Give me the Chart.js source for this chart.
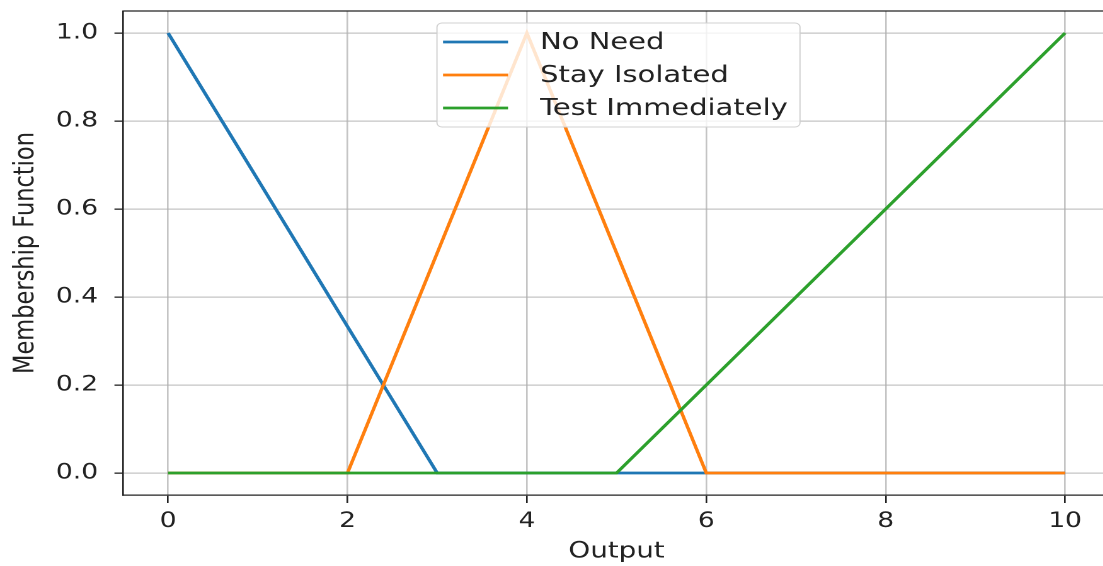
<!DOCTYPE html>
<html>
<head>
<meta charset="utf-8">
<script src="https://cdn.jsdelivr.net/npm/chart.js@4"></script>
<style>
  html, body { margin: 0; padding: 0; overflow: hidden; background: #fff; }
  #wrap { width: 890px; height: 566px; transform: scaleX(1.26); transform-origin: 0 0; }
</style>
</head>
<body>
<div id="wrap"><canvas id="c" width="890" height="566"></canvas></div>
<script>
// Output universe and membership degrees of each fuzzy set
const outputValues = [0, 1, 2, 3, 4, 5, 6, 7, 8, 9, 10];
const noNeed = [1, 0.667, 0.333, 0, 0, 0, 0, 0, 0, 0, 0];
const stayIsolated = [0, 0, 0, 0.5, 1, 0.5, 0, 0, 0, 0, 0];
const testImmediately = [0, 0, 0, 0, 0, 0, 0.2, 0.4, 0.6, 0.8, 1];

const seriesLabels = ['No Need', 'Stay Isolated', 'Test Immediately'];
const seriesColors = ['#1f77b4', '#ff7f0e', '#2ca02c'];

const xTicks = [0, 2, 4, 6, 8, 10];
const yTicks = [0, 0.2, 0.4, 0.6, 0.8, 1.0];

const FONT = 'DejaVu Sans';

function points(ys) {
  return outputValues.map((x, i) => ({ x: x, y: ys[i] }));
}

// Top spine and boxed legend drawn over the plot area
const framePlugin = {
  id: 'frame',
  afterDatasetsDraw(chart) {
    const { ctx, chartArea } = chart;
    ctx.save();
    ctx.strokeStyle = '#222';
    ctx.lineWidth = 1.3;
    ctx.beginPath();
    ctx.moveTo(chartArea.left, chartArea.top);
    ctx.lineTo(chartArea.right, chartArea.top);
    ctx.stroke();
    ctx.restore();
  },
  afterDraw(chart) {
    const { ctx } = chart;
    const left = 346.8, right = 634.9, top = 23, bottom = 127;
    ctx.save();
    ctx.beginPath();
    ctx.roundRect(left, top, right - left, bottom - top, 4);
    ctx.fillStyle = 'rgba(255,255,255,0.8)';
    ctx.fill();
    ctx.strokeStyle = '#d0d0d0';
    ctx.lineWidth = 1;
    ctx.stroke();
    const rows = [42, 75, 108];
    ctx.font = '23px "' + FONT + '"';
    ctx.textBaseline = 'middle';
    ctx.textAlign = 'left';
    chart.data.datasets.forEach((ds, i) => {
      const y = rows[i];
      ctx.strokeStyle = ds.borderColor;
      ctx.lineWidth = 2.8;
      ctx.beginPath();
      ctx.moveTo(351.6, y);
      ctx.lineTo(403.2, y);
      ctx.stroke();
      ctx.fillStyle = '#222';
      ctx.fillText(ds.label, 428.6, y + 1);
    });
    ctx.restore();
  }
};

function noOverflow(scale) {
  scale.paddingTop = 0;
  scale.paddingBottom = 0;
  scale.paddingLeft = 0;
  scale.paddingRight = 0;
}

new Chart(document.getElementById('c'), {
  type: 'line',
  data: {
    datasets: seriesLabels.map((label, i) => ({
      label: label,
      data: points([noNeed, stayIsolated, testImmediately][i]),
      borderColor: seriesColors[i],
      backgroundColor: seriesColors[i],
      borderWidth: 2.8,
      pointRadius: 0,
      tension: 0,
      fill: false,
      order: 3 - i
    }))
  },
  options: {
    responsive: false,
    animation: false,
    devicePixelRatio: 2,
    layout: { padding: { top: 11, right: 9.1, bottom: 0, left: 0 } },
    plugins: {
      legend: { display: false },
      tooltip: { enabled: false }
    },
    scales: {
      x: {
        type: 'linear',
        min: -0.5,
        max: 10.5,
        afterBuildTicks(scale) { scale.ticks = xTicks.map(v => ({ value: v })); },
        afterFit(scale) { scale.height = 71; noOverflow(scale); },
        ticks: {
          font: { family: FONT, size: 21, lineHeight: 1.2 },
          color: '#222',
          padding: 6,
          maxRotation: 0,
          callback: v => String(v)
        },
        grid: {
          color: 'rgba(176,176,176,0.75)',
          lineWidth: 1.3,
          tickLength: 8,
          tickColor: '#222',
          tickWidth: 1.3
        },
        border: { display: true, color: '#222', width: 1.3 },
        title: {
          display: true,
          text: 'Output',
          font: { family: FONT, size: 22, lineHeight: 1.2 },
          color: '#222',
          padding: { top: 0, bottom: 1 }
        }
      },
      y: {
        type: 'linear',
        min: -0.05,
        max: 1.05,
        afterBuildTicks(scale) { scale.ticks = yTicks.map(v => ({ value: v })); },
        afterFit(scale) { scale.width = 97.8; noOverflow(scale); },
        ticks: {
          font: { family: FONT, size: 21, lineHeight: 1.2 },
          color: '#222',
          padding: 13,
          callback: v => Number(v).toFixed(1)
        },
        grid: {
          color: 'rgba(176,176,176,0.75)',
          lineWidth: 1.3,
          tickLength: 7,
          tickColor: '#222',
          tickWidth: 1.3
        },
        border: { display: true, color: '#222', width: 1.3 },
        title: {
          display: true,
          text: 'Membership Function',
          font: { family: FONT, size: 22.5, lineHeight: 1.2 },
          color: '#222',
          padding: { top: 7, bottom: 0 }
        }
      }
    }
  },
  plugins: [framePlugin]
});
</script>
</body>
</html>
